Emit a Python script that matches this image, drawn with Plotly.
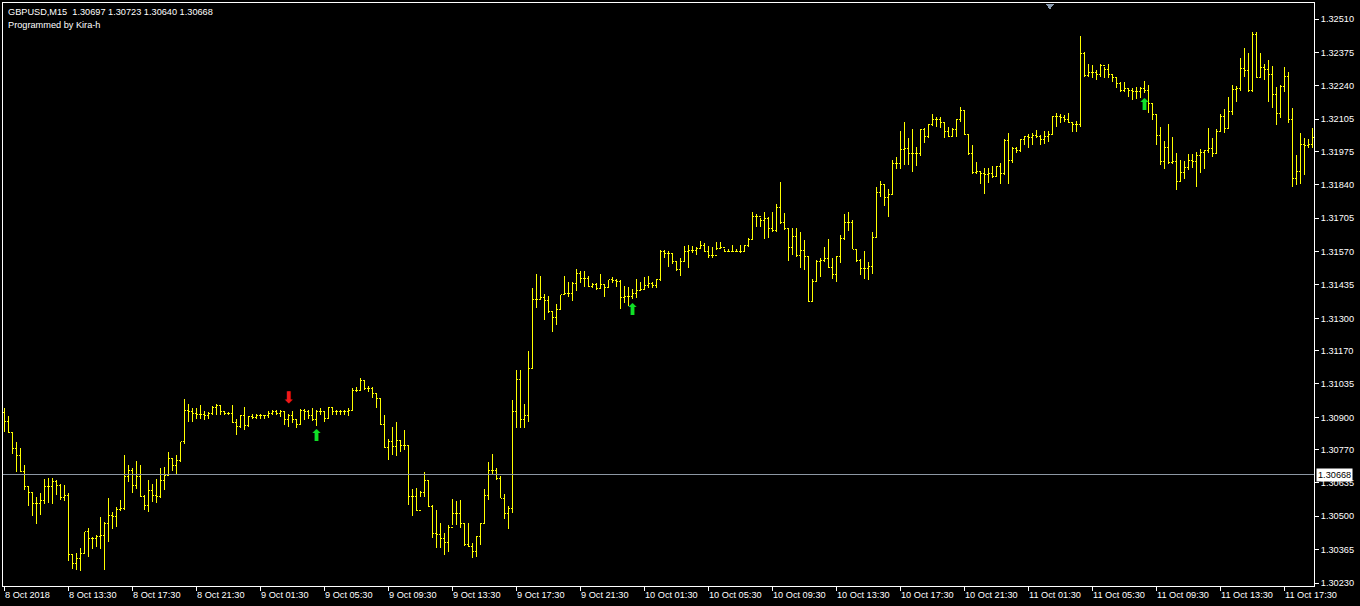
import plotly.graph_objects as go

# ---------------- data (GBPUSD M15, prices) ----------------
high = [1.30936,1.30904,1.30837,1.30801,1.30774,1.30706,1.30621,1.30594,1.30576,1.30594,
1.30652,1.30656,1.30656,1.30648,1.30632,1.30625,1.30594,1.30349,1.30352,1.30373,
1.30437,1.30454,1.30416,1.30423,1.30495,1.30477,1.30572,1.30518,1.30538,1.30565,
1.30747,1.30706,1.30693,1.30724,1.30706,1.30585,1.30648,1.30632,1.30652,1.30693,
1.30697,1.30760,1.30737,1.30747,1.30801,1.30972,1.30953,1.30936,1.30938,1.30949,
1.30925,1.30922,1.30946,1.30952,1.30949,1.30925,1.30922,1.30949,1.30895,1.30911,
1.30942,1.30906,1.30915,1.30915,1.30915,1.30911,1.30925,1.30929,1.30929,1.30929,
1.30922,1.30915,1.30925,1.30895,1.30933,1.30933,1.30929,1.30936,1.30929,1.30938,
1.30925,1.30942,1.30942,1.30929,1.30929,1.30929,1.30936,1.31019,1.31023,1.31057,
1.31050,1.31027,1.31023,1.31000,1.30976,1.30911,1.30814,1.30862,1.30882,1.30808,
1.30848,1.30787,1.30609,1.30613,1.30603,1.30680,1.30646,1.30545,1.30525,1.30471,
1.30433,1.30464,1.30568,1.30563,1.30565,1.30471,1.30471,1.30393,1.30420,1.30471,
1.30609,1.30720,1.30752,1.30694,1.30663,1.30590,1.30541,1.30970,1.31091,1.31091,
1.30954,1.31169,1.31421,1.31479,1.31471,1.31399,1.31390,1.31327,1.31358,1.31395,
1.31471,1.31448,1.31448,1.31498,1.31493,1.31493,1.31471,1.31444,1.31444,1.31479,
1.31439,1.31455,1.31466,1.31458,1.31455,1.31431,1.31428,1.31418,1.31461,1.31445,
1.31468,1.31472,1.31445,1.31461,1.31576,1.31576,1.31572,1.31562,1.31526,1.31542,
1.31593,1.31596,1.31593,1.31589,1.31612,1.31603,1.31593,1.31589,1.31607,1.31607,
1.31580,1.31582,1.31596,1.31582,1.31596,1.31596,1.31626,1.31731,1.31720,1.31707,
1.31728,1.31711,1.31731,1.31764,1.31852,1.31724,1.31663,1.31666,1.31666,1.31647,
1.31616,1.31549,1.31461,1.31535,1.31542,1.31589,1.31620,1.31542,1.31553,1.31636,
1.31720,1.31728,1.31697,1.31582,1.31539,1.31572,1.31526,1.31650,1.31829,1.31856,
1.31843,1.31821,1.31940,1.31951,1.32059,1.32095,1.32028,1.32064,1.31994,1.32064,
1.32068,1.32086,1.32126,1.32113,1.32115,1.32091,1.32072,1.32068,1.32105,1.32153,
1.32142,1.32045,1.32001,1.31933,1.31897,1.31907,1.31907,1.31916,1.31916,1.31929,
1.32024,1.32051,1.31994,1.31991,1.32024,1.32037,1.32045,1.32051,1.32062,1.32041,
1.32059,1.32059,1.32118,1.32129,1.32126,1.32122,1.32129,1.32091,1.32099,1.32442,
1.32378,1.32329,1.32324,1.32304,1.32327,1.32314,1.32327,1.32287,1.32277,1.32254,
1.32254,1.32230,1.32233,1.32237,1.32237,1.32260,1.32243,1.32169,1.32125,1.32075,
1.32017,1.32084,1.32034,1.31967,1.31940,1.31936,1.31963,1.31963,1.31974,1.31985,
1.31981,1.32071,1.32030,1.32065,1.32125,1.32146,1.32196,1.32243,1.32241,1.32354,
1.32394,1.32371,1.32459,1.32459,1.32371,1.32327,1.32345,1.32322,1.32237,1.32243,
1.32314,1.32297,1.32149,1.31960,1.32048,1.32030,1.32025,1.32071]

low = [1.30841,1.30837,1.30751,1.30679,1.30679,1.30608,1.30541,1.30500,1.30470,1.30504,
1.30551,1.30554,1.30551,1.30585,1.30567,1.30562,1.30319,1.30288,1.30282,1.30279,
1.30346,1.30336,1.30369,1.30376,1.30369,1.30282,1.30396,1.30450,1.30457,1.30522,
1.30524,1.30639,1.30592,1.30612,1.30578,1.30524,1.30518,1.30558,1.30554,1.30572,
1.30605,1.30666,1.30683,1.30670,1.30720,1.30791,1.30882,1.30882,1.30895,1.30895,
1.30889,1.30895,1.30911,1.30909,1.30909,1.30909,1.30909,1.30875,1.30828,1.30855,
1.30848,1.30862,1.30893,1.30895,1.30895,1.30895,1.30898,1.30909,1.30909,1.30902,
1.30868,1.30862,1.30875,1.30855,1.30868,1.30889,1.30895,1.30885,1.30866,1.30909,
1.30879,1.30893,1.30909,1.30911,1.30909,1.30911,1.30906,1.30929,1.31003,1.31006,
1.31010,1.31003,1.30979,1.30936,1.30868,1.30774,1.30727,1.30747,1.30744,1.30760,
1.30767,1.30545,1.30501,1.30522,1.30576,1.30576,1.30536,1.30410,1.30370,1.30370,
1.30343,1.30357,1.30464,1.30464,1.30451,1.30379,1.30374,1.30330,1.30334,1.30384,
1.30471,1.30565,1.30667,1.30646,1.30572,1.30487,1.30447,1.30512,1.30855,1.30855,
1.30855,1.30882,1.31098,1.31341,1.31374,1.31293,1.31323,1.31246,1.31273,1.31334,
1.31395,1.31385,1.31372,1.31412,1.31444,1.31426,1.31426,1.31421,1.31415,1.31417,
1.31388,1.31426,1.31442,1.31426,1.31337,1.31361,1.31350,1.31380,1.31383,1.31414,
1.31414,1.31421,1.31421,1.31423,1.31450,1.31545,1.31508,1.31518,1.31491,1.31472,
1.31531,1.31504,1.31566,1.31556,1.31580,1.31569,1.31545,1.31542,1.31576,1.31580,
1.31569,1.31569,1.31569,1.31569,1.31566,1.31569,1.31589,1.31620,1.31670,1.31670,
1.31620,1.31626,1.31647,1.31650,1.31680,1.31657,1.31531,1.31556,1.31549,1.31504,
1.31495,1.31367,1.31367,1.31448,1.31468,1.31526,1.31504,1.31461,1.31448,1.31522,
1.31616,1.31653,1.31580,1.31526,1.31475,1.31461,1.31454,1.31481,1.31627,1.31791,
1.31754,1.31710,1.31798,1.31902,1.31902,1.31920,1.31920,1.31893,1.31916,1.31956,
1.32010,1.32028,1.32078,1.32072,1.32068,1.32028,1.32035,1.32035,1.32032,1.32095,
1.32041,1.31960,1.31884,1.31884,1.31843,1.31803,1.31846,1.31866,1.31876,1.31843,
1.31880,1.31843,1.31927,1.31970,1.31974,1.32001,1.31987,1.32001,1.32028,1.32001,
1.32005,1.32014,1.32041,1.32072,1.32089,1.32095,1.32089,1.32055,1.32055,1.32072,
1.32275,1.32275,1.32270,1.32264,1.32277,1.32273,1.32273,1.32254,1.32233,1.32216,
1.32216,1.32196,1.32183,1.32187,1.32189,1.32210,1.32129,1.32102,1.32001,1.31920,
1.31904,1.31923,1.31923,1.31819,1.31852,1.31863,1.31900,1.31909,1.31832,1.31886,
1.31904,1.31967,1.31954,1.31963,1.32052,1.32048,1.32065,1.32122,1.32176,1.32219,
1.32277,1.32216,1.32214,1.32270,1.32270,1.32264,1.32176,1.32152,1.32082,1.32109,
1.32216,1.32088,1.31832,1.31839,1.31842,1.31879,1.31987,1.31987]

close = [1.30882,1.30837,1.30774,1.30747,1.30679,1.30619,1.30594,1.30551,1.30551,1.30562,
1.30619,1.30621,1.30639,1.30625,1.30576,1.30585,1.30346,1.30309,1.30329,1.30349,
1.30437,1.30410,1.30410,1.30419,1.30423,1.30470,1.30504,1.30497,1.30527,1.30531,
1.30659,1.30686,1.30625,1.30659,1.30581,1.30545,1.30605,1.30585,1.30578,1.30646,
1.30666,1.30733,1.30706,1.30727,1.30801,1.30929,1.30922,1.30915,1.30911,1.30911,
1.30909,1.30915,1.30938,1.30949,1.30922,1.30915,1.30915,1.30879,1.30862,1.30909,
1.30866,1.30902,1.30898,1.30909,1.30909,1.30906,1.30915,1.30922,1.30915,1.30922,
1.30889,1.30909,1.30893,1.30871,1.30929,1.30922,1.30906,1.30889,1.30925,1.30922,
1.30895,1.30938,1.30922,1.30922,1.30922,1.30922,1.30929,1.31010,1.31010,1.31050,
1.31017,1.31017,1.30996,1.30976,1.30871,1.30777,1.30801,1.30781,1.30808,1.30787,
1.30787,1.30578,1.30579,1.30525,1.30595,1.30644,1.30539,1.30431,1.30428,1.30410,
1.30393,1.30455,1.30512,1.30512,1.30471,1.30384,1.30377,1.30357,1.30417,1.30471,
1.30582,1.30684,1.30684,1.30652,1.30572,1.30509,1.30532,1.30923,1.31053,1.30889,
1.30909,1.31098,1.31377,1.31377,1.31385,1.31374,1.31327,1.31304,1.31337,1.31395,
1.31401,1.31401,1.31442,1.31482,1.31462,1.31462,1.31428,1.31435,1.31421,1.31435,
1.31426,1.31455,1.31452,1.31448,1.31385,1.31388,1.31388,1.31401,1.31414,1.31418,
1.31432,1.31441,1.31434,1.31458,1.31572,1.31562,1.31562,1.31529,1.31499,1.31531,
1.31572,1.31576,1.31576,1.31582,1.31596,1.31572,1.31553,1.31556,1.31582,1.31585,
1.31572,1.31572,1.31572,1.31572,1.31572,1.31593,1.31620,1.31711,1.31711,1.31697,
1.31704,1.31663,1.31657,1.31747,1.31688,1.31663,1.31585,1.31630,1.31556,1.31576,
1.31549,1.31370,1.31450,1.31529,1.31535,1.31542,1.31504,1.31477,1.31549,1.31623,
1.31688,1.31688,1.31580,1.31535,1.31502,1.31502,1.31508,1.31627,1.31808,1.31839,
1.31789,1.31802,1.31927,1.31927,1.31983,1.31987,1.31967,1.31967,1.31967,1.32062,
1.32035,1.32082,1.32102,1.32105,1.32091,1.32055,1.32037,1.32064,1.32102,1.32140,
1.32045,1.31967,1.31889,1.31893,1.31886,1.31880,1.31884,1.31873,1.31913,1.31884,
1.32018,1.31938,1.31987,1.31978,1.32021,1.32035,1.32032,1.32041,1.32037,1.32021,
1.32037,1.32045,1.32115,1.32115,1.32113,1.32102,1.32091,1.32082,1.32082,1.32369,
1.32280,1.32294,1.32295,1.32287,1.32324,1.32304,1.32287,1.32273,1.32250,1.32219,
1.32230,1.32219,1.32216,1.32216,1.32230,1.32219,1.32169,1.32125,1.32039,1.31933,
1.31990,1.31931,1.31933,1.31855,1.31890,1.31909,1.31936,1.31933,1.31960,1.31971,
1.31977,1.31987,1.31967,1.32057,1.32115,1.32068,1.32138,1.32227,1.32230,1.32311,
1.32300,1.32219,1.32446,1.32273,1.32314,1.32304,1.32284,1.32203,1.32129,1.32237,
1.32277,1.32102,1.31866,1.31893,1.32001,1.31998,1.32001,1.32033]

open_ = [1.30920,1.30882,1.30837,1.30774,1.30747,1.30679,1.30619,1.30594,1.30551,1.30551,
1.30562,1.30619,1.30621,1.30639,1.30625,1.30576,1.30585,1.30346,1.30309,1.30329,
1.30349,1.30437,1.30410,1.30410,1.30419,1.30423,1.30470,1.30504,1.30497,1.30527,
1.30531,1.30659,1.30686,1.30625,1.30659,1.30581,1.30545,1.30605,1.30585,1.30578,
1.30646,1.30666,1.30733,1.30706,1.30727,1.30801,1.30929,1.30922,1.30915,1.30911,
1.30911,1.30909,1.30915,1.30938,1.30949,1.30922,1.30915,1.30915,1.30879,1.30862,
1.30909,1.30866,1.30902,1.30898,1.30909,1.30909,1.30906,1.30915,1.30922,1.30915,
1.30922,1.30889,1.30909,1.30893,1.30871,1.30929,1.30922,1.30906,1.30889,1.30925,
1.30922,1.30895,1.30938,1.30922,1.30922,1.30922,1.30922,1.30929,1.31010,1.31010,
1.31050,1.31017,1.31017,1.30996,1.30976,1.30871,1.30777,1.30801,1.30781,1.30808,
1.30787,1.30787,1.30578,1.30579,1.30525,1.30595,1.30644,1.30539,1.30431,1.30428,
1.30410,1.30393,1.30455,1.30512,1.30512,1.30471,1.30384,1.30377,1.30357,1.30417,
1.30471,1.30582,1.30684,1.30684,1.30652,1.30572,1.30509,1.30532,1.30923,1.31053,
1.30889,1.30909,1.31098,1.31377,1.31377,1.31385,1.31374,1.31327,1.31304,1.31337,
1.31395,1.31401,1.31401,1.31442,1.31482,1.31462,1.31462,1.31428,1.31435,1.31421,
1.31435,1.31426,1.31455,1.31452,1.31448,1.31385,1.31388,1.31388,1.31401,1.31414,
1.31418,1.31432,1.31441,1.31434,1.31458,1.31572,1.31562,1.31562,1.31529,1.31499,
1.31531,1.31572,1.31576,1.31576,1.31582,1.31596,1.31572,1.31553,1.31556,1.31582,
1.31585,1.31572,1.31572,1.31572,1.31572,1.31572,1.31593,1.31620,1.31711,1.31711,
1.31697,1.31704,1.31663,1.31657,1.31747,1.31688,1.31663,1.31585,1.31630,1.31556,
1.31576,1.31549,1.31370,1.31450,1.31529,1.31535,1.31542,1.31504,1.31477,1.31549,
1.31623,1.31688,1.31688,1.31580,1.31535,1.31502,1.31502,1.31508,1.31627,1.31808,
1.31839,1.31789,1.31802,1.31927,1.31927,1.31983,1.31987,1.31967,1.31967,1.31967,
1.32062,1.32035,1.32082,1.32102,1.32105,1.32091,1.32055,1.32037,1.32064,1.32102,
1.32140,1.32045,1.31967,1.31889,1.31893,1.31886,1.31880,1.31884,1.31873,1.31913,
1.31884,1.32018,1.31938,1.31987,1.31978,1.32021,1.32035,1.32032,1.32041,1.32037,
1.32021,1.32037,1.32045,1.32115,1.32115,1.32113,1.32102,1.32091,1.32082,1.32082,
1.32369,1.32280,1.32294,1.32295,1.32287,1.32324,1.32304,1.32287,1.32273,1.32250,
1.32219,1.32230,1.32219,1.32216,1.32216,1.32230,1.32219,1.32169,1.32125,1.32039,
1.31933,1.31990,1.31931,1.31933,1.31855,1.31890,1.31909,1.31936,1.31933,1.31960,
1.31971,1.31977,1.31987,1.31967,1.32057,1.32115,1.32068,1.32138,1.32227,1.32230,
1.32311,1.32300,1.32219,1.32446,1.32273,1.32314,1.32304,1.32284,1.32203,1.32129,
1.32237,1.32277,1.32102,1.31866,1.31893,1.32001,1.31998,1.32001]

bar_index = list(range(len(close)))

time_tick_bars = [0,16,32,48,64,80,96,112,128,144,160,176,192,208,224,240,256,272,288,304,320]
time_tick_labels = ["8 Oct 2018","8 Oct 13:30","8 Oct 17:30","8 Oct 21:30","9 Oct 01:30",
    "9 Oct 05:30","9 Oct 09:30","9 Oct 13:30","9 Oct 17:30","9 Oct 21:30","10 Oct 01:30",
    "10 Oct 05:30","10 Oct 09:30","10 Oct 13:30","10 Oct 17:30","10 Oct 21:30",
    "11 Oct 01:30","11 Oct 05:30","11 Oct 09:30","11 Oct 13:30","11 Oct 17:30"]

price_ticks = [1.32510,1.32375,1.32240,1.32105,1.31975,1.31840,1.31705,1.31570,1.31435,
    1.31300,1.31170,1.31035,1.30900,1.30770,1.30635,1.30500,1.30365,1.30230]

sell_arrow_bars = [71]
sell_arrow_prices = [1.30974]
buy_arrow_bars = [78, 157, 285]
buy_arrow_prices = [1.30820, 1.31329, 1.32158]

current_price = 1.30668
header_line1 = "GBPUSD,M15\u00a0 1.30697 1.30723 1.30640 1.30668"
header_line2 = "Programmed by Kira-h"

FONT = "Liberation Sans"
FS = 9.2

fig = go.Figure()
fig.add_trace(go.Ohlc(
    x=bar_index, open=open_, high=high, low=low, close=close,
    increasing=dict(line=dict(color="#FFFF00", width=1)),
    decreasing=dict(line=dict(color="#FFFF00", width=1)),
    tickwidth=0.3, hoverinfo="skip", showlegend=False))

fig.add_trace(go.Scatter(
    x=sell_arrow_bars, y=sell_arrow_prices, mode="text", text=["\u2b07"] * len(sell_arrow_bars),
    textfont=dict(color="#F01818", size=16, family="DejaVu Sans"),
    hoverinfo="skip", showlegend=False))
fig.add_trace(go.Scatter(
    x=buy_arrow_bars, y=buy_arrow_prices, mode="text", text=["\u2b06"] * len(buy_arrow_bars),
    textfont=dict(color="#10E028", size=16, family="DejaVu Sans"),
    hoverinfo="skip", showlegend=False))

# current price line
fig.add_shape(type="line", xref="paper", x0=0, x1=1, yref="y", y0=current_price, y1=current_price,
              line=dict(color="#8C97A3", width=1))
# chart shift marker
fig.add_shape(type="path", xref="paper", yref="paper",
              path="M 0.7955,0.9983 L 0.8017,0.9983 L 0.7986,0.9889 Z",
              fillcolor="#8A9BB0", line=dict(width=0))

ann = []
for b, t in zip(time_tick_bars, time_tick_labels):
    ann.append(dict(x=b, xref="x", y=0, yref="paper", text=t, showarrow=False,
                    xanchor="left", yanchor="top", xshift=-2, yshift=-2,
                    font=dict(family=FONT, size=FS, color="#FFFFFF")))
ann.append(dict(x=0, xref="paper", y=1, yref="paper", text=header_line1, showarrow=False,
                xanchor="left", yanchor="top", xshift=3, yshift=-2,
                font=dict(family=FONT, size=FS, color="#FFFFFF")))
ann.append(dict(x=0, xref="paper", y=1, yref="paper", text=header_line2, showarrow=False,
                xanchor="left", yanchor="top", xshift=3, yshift=-15,
                font=dict(family=FONT, size=FS, color="#FFFFFF")))
ann.append(dict(x=1, xref="paper", y=current_price, yref="y", text=f"{current_price:.5f}",
                showarrow=False, xanchor="left", yanchor="middle", xshift=2,
                bgcolor="#FFFFFF", borderpad=1,
                font=dict(family=FONT, size=FS, color="#000000")))

fig.update_layout(
    width=1360, height=606,
    margin=dict(l=3, r=46, t=3, b=20),
    paper_bgcolor="#000000", plot_bgcolor="#000000",
    annotations=ann,
    showlegend=False,
    xaxis=dict(range=[-0.375, 327.375], rangeslider=dict(visible=False),
               showgrid=False, zeroline=False, showline=True, linecolor="#FFFFFF",
               linewidth=1, mirror=True, tickmode="array", tickvals=time_tick_bars,
               showticklabels=False, ticks="outside", ticklen=4, tickcolor="#FFFFFF",
               tickwidth=1, fixedrange=True),
    yaxis=dict(range=[1.302179, 1.325747], side="right", showgrid=False, zeroline=False,
               showline=True, linecolor="#FFFFFF", linewidth=1, mirror=True,
               tickmode="array", tickvals=price_ticks,
               ticktext=[f"{p:.5f}" for p in price_ticks],
               ticks="outside", ticklen=4, tickcolor="#FFFFFF", tickwidth=1,
               tickfont=dict(family=FONT, size=FS, color="#FFFFFF"), fixedrange=True),
)

post_js = (
    "document.documentElement.style.margin='0';"
    "document.body.style.margin='0';"
    "document.body.style.padding='0';"
    "document.body.style.background='#000000';"
    "document.body.style.overflow='hidden';"
    "var st=document.createElement('style');"
    "st.innerHTML='.ohlc path, .shapelayer path{shape-rendering:crispEdges !important;}';"
    "document.head.appendChild(st);"
)

fig.write_html("out.html", post_script=post_js,
               config={"displayModeBar": False, "staticPlot": True})
